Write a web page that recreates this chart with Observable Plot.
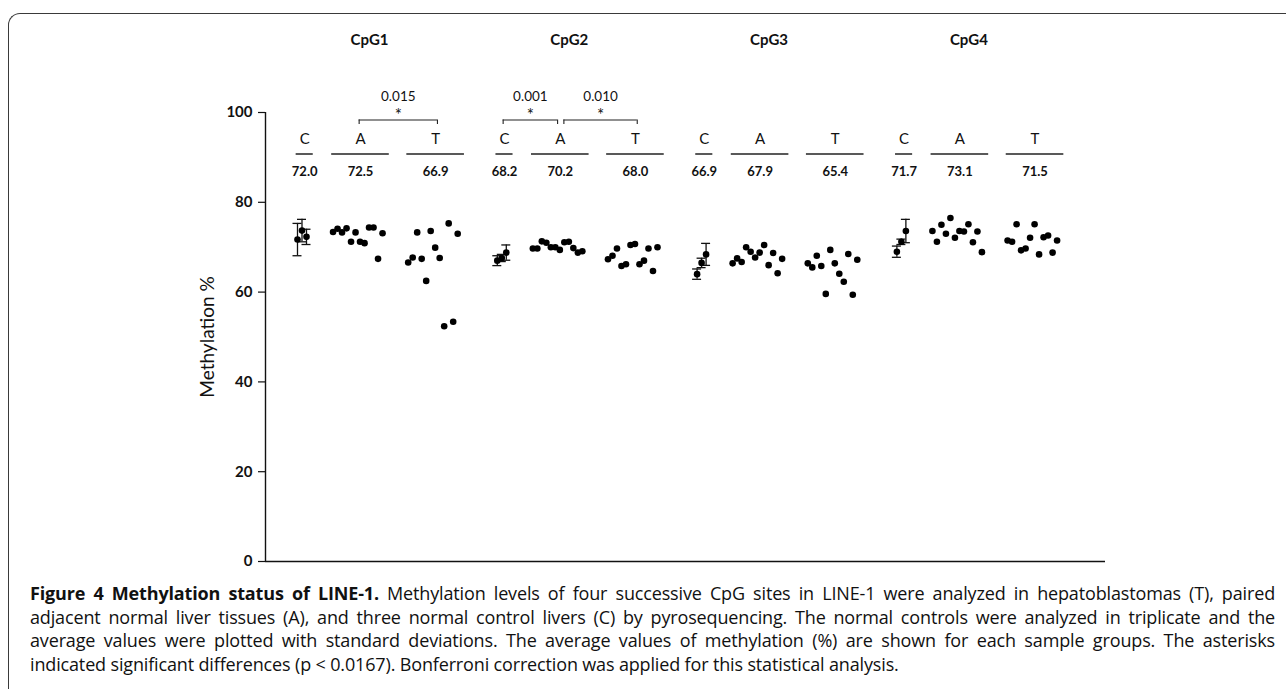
<!DOCTYPE html>
<html><head><meta charset="utf-8">
<script src="https://cdn.jsdelivr.net/npm/d3@7"></script>
<script src="https://cdn.jsdelivr.net/npm/@observablehq/plot@0.6"></script>
<style>
html,body{margin:0;padding:0;background:#fff;}
body{width:1286px;height:689px;position:relative;overflow:hidden;}
#border{position:absolute;left:8px;top:13px;width:1320px;height:720px;border-left:1.2px solid #3a3a3a;border-top:1.2px solid #3a3a3a;border-top-left-radius:12px;box-sizing:border-box;}
#chart{position:absolute;left:0;top:0;}
#caption{position:absolute;left:30px;top:582px;width:1245px;font-family:"Open Sans",sans-serif;font-size:18px;letter-spacing:-0.15px;line-height:23.5px;color:#111;}
#caption .j{text-align:justify;text-align-last:justify;}
#caption b{font-weight:700;}
</style></head>
<body>
<div id="border"></div>
<div id="chart"></div>
<div id="caption">
<div class="j"><b>Figure 4 Methylation status of LINE-1.</b> Methylation levels of four successive CpG sites in LINE-1 were analyzed in hepatoblastomas (T), paired</div>
<div class="j">adjacent normal liver tissues (A), and three normal control livers (C) by pyrosequencing. The normal controls were analyzed in triplicate and the</div>
<div class="j">average values were plotted with standard deviations. The average values of methylation (%) are shown for each sample groups. The asterisks</div>
<div>indicated significant differences (p &lt; 0.0167). Bonferroni correction was applied for this statistical analysis.</div>
</div>
<script>
const sites = ["CpG1", "CpG2", "CpG3", "CpG4"];
const groups = ["C", "A", "T"];

const cpg1C = [71.7, 73.7, 72.3];
const cpg1Csd = [3.6, 2.5, 1.7];
const cpg1A = [73.4, 74.1, 73.3, 74.2, 71.2, 73.3, 71.2, 70.9, 74.4, 74.4, 67.4, 73.1];
const cpg1T = [66.6, 67.7, 73.3, 67.4, 62.5, 73.6, 69.9, 67.6, 52.4, 75.3, 53.4, 73.0];

const cpg2C = [67.0, 67.6, 68.8];
const cpg2Csd = [1.1, 0.8, 1.7];
const cpg2A = [69.7, 69.7, 71.3, 71.0, 70.0, 70.0, 69.4, 71.1, 71.2, 69.8, 68.8, 69.1];
const cpg2T = [67.3, 68.1, 69.7, 65.8, 66.2, 70.5, 70.7, 66.2, 67.0, 69.7, 64.7, 70.0];

const cpg3C = [64.0, 66.5, 68.4];
const cpg3Csd = [1.15, 1.05, 2.45];
const cpg3A = [66.4, 67.5, 66.7, 70.0, 69.0, 67.7, 68.8, 70.5, 66.0, 68.7, 64.2, 67.4];
const cpg3T = [66.4, 65.5, 68.1, 65.8, 59.6, 69.4, 66.4, 64.1, 62.3, 68.5, 59.4, 67.2];

const cpg4C = [69.0, 71.2, 73.6];
const cpg4Csd = [1.25, 0.6, 2.6];
const cpg4A = [73.6, 71.2, 75.0, 73.0, 76.5, 72.1, 73.6, 73.5, 75.1, 71.1, 73.5, 68.9];
const cpg4T = [71.5, 71.2, 75.1, 69.3, 69.7, 72.1, 75.1, 68.4, 72.2, 72.6, 68.8, 71.5];

const meanLabels = [["72.0", "72.5", "66.9"], ["68.2", "70.2", "68.0"], ["66.9", "67.9", "65.4"], ["71.7", "73.1", "71.5"]];
const comparisons = [
  {site: "CpG1", from: "A", to: "T", p: "0.015"},
  {site: "CpG2", from: "C", to: "A", p: "0.001"},
  {site: "CpG2", from: "A", to: "T", p: "0.010"}
];
const yTicks = [0, 20, 40, 60, 80, 100];
const yLabel = "Methylation %";

// ---- layout (slot units: one slot per sample) ----
const siteData = [[cpg1C, cpg1A, cpg1T], [cpg2C, cpg2A, cpg2T], [cpg3C, cpg3A, cpg3T], [cpg4C, cpg4A, cpg4T]];
const sdData = [cpg1Csd, cpg2Csd, cpg3Csd, cpg4Csd];
const GAPS = [5.9, 5.7, 8.8];
let pos = 0;
const points = [], bars = [], groupInfo = [], siteStart = [];
siteData.forEach((gs, si) => {
  siteStart.push(pos);
  gs.forEach((vals, gi) => {
    const start = pos;
    vals.forEach((v, i) => {
      points.push({x: pos, y: v});
      if (gi === 0) bars.push({x: pos, y: v, sd: sdData[si][i]});
      pos += 1;
    });
    const end = pos - 1;
    const x1 = start - 0.3, x2 = end + 1.5;
    groupInfo.push({site: sites[si], group: groups[gi], x1, x2, xc: (x1 + x2) / 2, mean: meanLabels[si][gi]});
    pos = end + GAPS[gi];
  });
});
const lastX = points[points.length - 1].x;
const xDomain = [-7.11, lastX + 10.76];

const gc = (s, g) => groupInfo.find(d => d.site === s && d.group === g).xc;
const brackets = comparisons.map(c => {
  const shareLeft = comparisons.some(o => o !== c && o.site === c.site && o.to === c.from);
  const shareRight = comparisons.some(o => o !== c && o.site === c.site && o.from === c.to);
  const x1 = gc(c.site, c.from) + (shareLeft ? 0.8 : -0.3);
  const x2 = gc(c.site, c.to) + (shareRight ? -0.6 : 0.4);
  return {x1, x2, xm: (x1 + x2) / 2, p: c.p};
});
const bracketEnds = brackets.flatMap(b => [{x: b.x1}, {x: b.x2}]);

const TOP = 100; // annotations are anchored to the top of the y domain
const ink = "#111";

const chart = Plot.plot({
  width: 1286,
  height: 575,
  marginLeft: 265,
  marginRight: 181,
  marginTop: 112,
  marginBottom: 14,
  style: {fontFamily: "Lato, sans-serif", color: ink, background: "transparent", overflow: "visible"},
  x: {domain: xDomain, axis: null},
  y: {domain: [0, 100], axis: null},
  marks: [
    Plot.ruleY([0], {stroke: ink, strokeWidth: 1.4}),
    Plot.ruleX([xDomain[0]], {y1: 0, y2: 100, stroke: ink, strokeWidth: 1.4}),
    Plot.axisY({ticks: yTicks, tickSize: 7, tickPadding: 6, fontWeight: "bold", fontSize: 15, label: null, stroke: ink, strokeWidth: 1.2}),
    Plot.text([yLabel], {frameAnchor: "left", textAnchor: "middle", dx: -58, rotate: -90, text: d => d, fontSize: 19}),
    // site headers
    Plot.text(sites, {x: (d, i) => siteStart[i] + 16, y: TOP, dy: -72, text: d => d, fontWeight: "bold", fontSize: 15}),
    // group labels, underline and mean
    Plot.text(groupInfo, {x: "xc", y: TOP, dy: 27, text: "group", fontSize: 15}),
    Plot.ruleY(groupInfo, {y: TOP, x1: "x1", x2: "x2", dy: 41.5, stroke: "#222", strokeWidth: 1.5}),
    Plot.text(groupInfo, {x: "xc", y: TOP, dy: 59.5, text: "mean", fontWeight: "bold", fontSize: 13}),
    // significance brackets
    Plot.ruleY(brackets, {y: TOP, x1: "x1", x2: "x2", dy: 7.5, stroke: "#222", strokeWidth: 1.1}),
    Plot.ruleX(bracketEnds, {x: "x", y1: TOP, y2: TOP - 1, dy: 7.5, stroke: "#222", strokeWidth: 1.1}),
    Plot.text(brackets, {x: "xm", y: TOP, dy: 3, text: () => "*", fontSize: 17}),
    Plot.text(brackets, {x: "xm", y: TOP, dy: -16, text: "p", fontSize: 13.5}),
    // error bars of control triplicates
    Plot.ruleX(bars, {x: "x", y1: d => d.y - d.sd, y2: d => d.y + d.sd, stroke: ink, strokeWidth: 1.3}),
    Plot.ruleY(bars, {y: d => d.y + d.sd, x1: d => d.x - 1, x2: d => d.x + 1, stroke: ink, strokeWidth: 1.3}),
    Plot.ruleY(bars, {y: d => d.y - d.sd, x1: d => d.x - 1, x2: d => d.x + 1, stroke: ink, strokeWidth: 1.3}),
    // samples
    Plot.dot(points, {x: "x", y: "y", r: 3.3, fill: "#000", stroke: "none"})
  ]
});
document.getElementById("chart").appendChild(chart);
</script>
</body></html>
